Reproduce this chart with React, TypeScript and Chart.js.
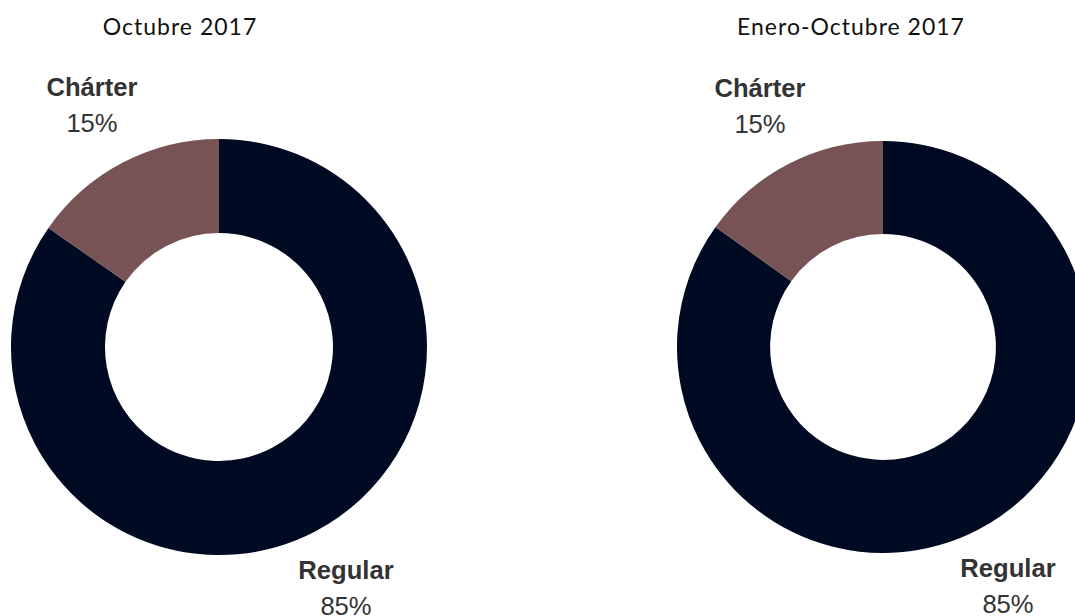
import React, { useEffect, useRef } from "react";
import { Chart, registerables } from "chart.js";

Chart.register(...registerables);

const categories = ["Regular", "Chárter"];
const octubreValues = [84.7, 15.3];
const eneroOctubreValues = [84.9, 15.1];
const chartTitles = ["Octubre 2017", "Enero-Octubre 2017"];
const percentLabels = ["85%", "15%"];
const sliceColors = ["#000a22", "#775356"];

type DonutProps = {
  values: number[];
  left: number;
  top: number;
  size: number;
};

function Donut({ values, left, top, size }: DonutProps) {
  const ref = useRef<HTMLCanvasElement | null>(null);
  useEffect(() => {
    if (!ref.current) return;
    const chart = new Chart(ref.current, {
      type: "doughnut",
      data: {
        labels: categories,
        datasets: [
          {
            data: values,
            backgroundColor: sliceColors,
            borderWidth: 0,
            hoverOffset: 0,
          },
        ],
      },
      options: {
        responsive: false,
        maintainAspectRatio: false,
        animation: false,
        cutout: "54.8%",
        layout: { padding: 0 },
        plugins: {
          legend: { display: false },
          tooltip: { enabled: false },
          title: { display: false },
        },
      },
    });
    return () => chart.destroy();
  }, [values]);
  return (
    <canvas
      ref={ref}
      width={size}
      height={size}
      style={{ position: "absolute", left, top, width: size, height: size }}
    />
  );
}

const labelBase: React.CSSProperties = {
  position: "absolute",
  fontFamily: "'Liberation Sans', Arial, sans-serif",
  fontSize: 25.6,
  lineHeight: "25px",
  color: "#333333",
  whiteSpace: "nowrap",
  transform: "translateX(-50%)",
};

const titleBase: React.CSSProperties = {
  position: "absolute",
  fontFamily: "Lato, 'Noto Sans', sans-serif",
  fontSize: 23,
  lineHeight: "23px",
  letterSpacing: 1,
  color: "#111111",
  whiteSpace: "nowrap",
  transform: "translateX(-50%)",
};

function Label({ x, y, text, bold }: { x: number; y: number; text: string; bold?: boolean }) {
  return (
    <div style={{ ...labelBase, left: x, top: y, fontWeight: bold ? 700 : 400 }}>{text}</div>
  );
}

export default function App() {
  return (
    <div
      style={{
        position: "fixed",
        left: 0,
        top: 0,
        width: 1075,
        height: 616,
        overflow: "hidden",
        background: "#ffffff",
      }}
    >
      <div style={{ ...titleBase, left: 180, top: 15 }}>{chartTitles[0]}</div>
      <div style={{ ...titleBase, left: 851, top: 15 }}>{chartTitles[1]}</div>

      <Donut values={octubreValues} left={11} top={139} size={416} />
      <Donut values={eneroOctubreValues} left={677} top={141} size={412} />

      <Label x={92} y={75} text={categories[1]} bold />
      <Label x={92} y={111} text={percentLabels[1]} />
      <Label x={346} y={558} text={categories[0]} bold />
      <Label x={346} y={594} text={percentLabels[0]} />

      <Label x={760} y={76} text={categories[1]} bold />
      <Label x={760} y={112} text={percentLabels[1]} />
      <Label x={1008} y={556} text={categories[0]} bold />
      <Label x={1008} y={592} text={percentLabels[0]} />
    </div>
  );
}
